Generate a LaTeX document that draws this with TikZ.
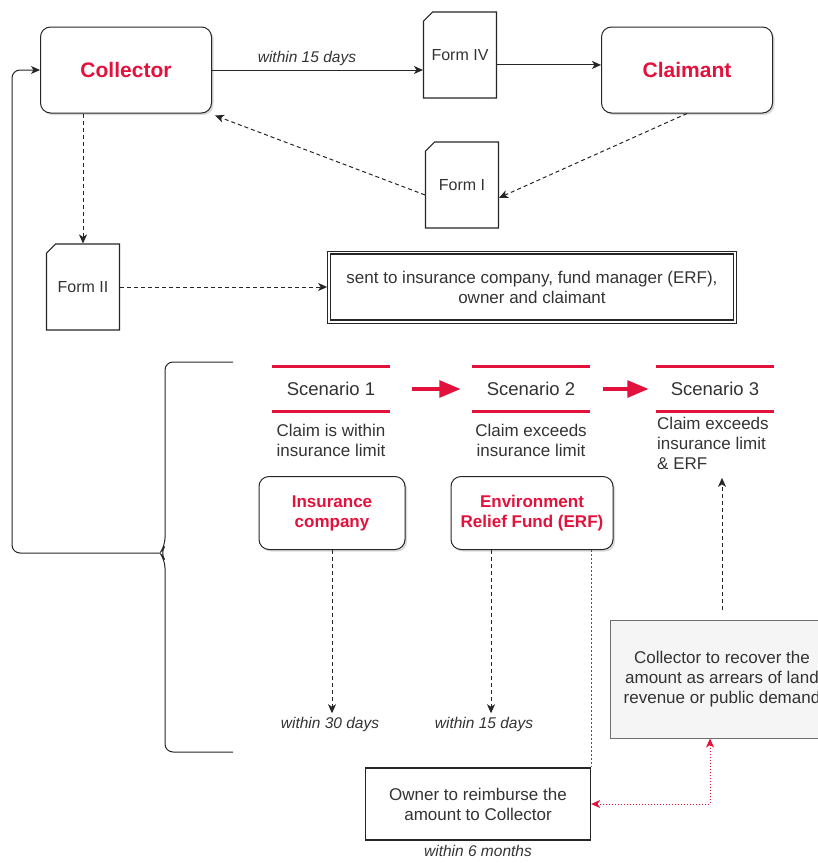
\documentclass[tikz,border=0pt]{standalone}
\usepackage{fontspec}
\setmainfont{Liberation Sans}
\usepackage{xcolor}
\usepackage{tikz}
\usetikzlibrary{arrows}
\usetikzlibrary{arrows.meta}
\usetikzlibrary{shapes.misc}
\usetikzlibrary{shadows}
\usetikzlibrary{positioning}
\definecolor{crimson}{RGB}{226,18,60}
\definecolor{txtgrey}{RGB}{51,51,51}
\definecolor{boxgrey}{RGB}{245,245,245}
\definecolor{edgegrey}{RGB}{110,110,110}

\begin{document}
\begin{tikzpicture}[x=1pt,y=-1pt]
	\useasboundingbox (0,0) rectangle (818,863);
	\clip (0,0) rectangle (818,863);
	\tikzstyle{actor}=[draw=black!85,rounded corners=10pt,line width=1pt,minimum width=171pt,minimum height=86pt,fill=white,drop shadow={opacity=0.3,shadow xshift=2pt,shadow yshift=-2pt},text=crimson,font=\fontsize{21}{24}\selectfont\bfseries]
	\tikzstyle{fund}=[actor,minimum height=73pt,align=center,font=\fontsize{17}{20}\selectfont\bfseries]
	\tikzstyle{form}=[draw=black!85,line width=1.1pt,fill=white,chamfered rectangle,chamfered rectangle corners=north west,chamfered rectangle xsep=21pt,minimum width=73pt,minimum height=86pt,inner sep=0pt,text=txtgrey,font=\fontsize{16}{19}\selectfont]
	\tikzstyle{plainbox}=[draw=black!85,line width=1.2pt,align=center,text=txtgrey,font=\fontsize{17}{20}\selectfont]
	\tikzstyle{scen}=[minimum width=117pt,minimum height=44pt,text=txtgrey,font=\fontsize{18.5}{22}\selectfont]
	\tikzstyle{desc}=[align=center,text=txtgrey,font=\fontsize{17}{20}\selectfont]
	\tikzstyle{lbl}=[text=txtgrey,font=\fontsize{15.5}{18}\selectfont\itshape]
	\tikzstyle{scenbar}=[draw=crimson,line width=3pt]
	\tikzstyle{bigarrow}=[-triangle 45,draw=crimson,line width=4pt]
	\tikzstyle{solidarrow}=[-{Stealth[length=9pt,width=8pt,inset=2.5pt]},draw=black!85,line width=1pt]
	\tikzstyle{dasharrow}=[-{Stealth[length=9pt,width=8pt,inset=2.5pt]},draw=black!85,line width=1pt,dash pattern=on 4pt off 3pt]
	\tikzstyle{reddots}=[draw=crimson,line width=1pt,dotted]

	\node[actor] (co) at (126,70) {Collector};
	\node[actor] (cl) at (687,70) {Claimant};
	\node[form] (f4) at (460,55) {Form IV};
	\node[form] (f1) at (462,185) {Form I};
	\node[form] (f2) at (83,287) {Form II};
	\node[plainbox,line width=0.8pt,minimum width=409pt,minimum height=72pt] (sb) at (532,287) {sent to insurance company, fund manager (ERF),\\owner and claimant};
	\draw[black!85,line width=1.6pt] ([xshift=3.5pt,yshift=-3.5pt]sb.north west) rectangle ([xshift=-3.5pt,yshift=3.5pt]sb.south east);

	\node[scen] (s1) at (331,389) {Scenario 1};
	\node[scen] (s2) at (531,389) {Scenario 2};
	\node[scen] (s3) at (715,389) {Scenario 3};
	\draw[scenbar] (s1.north west) -- (s1.north east) (s1.south west) -- (s1.south east);
	\draw[scenbar] (s2.north west) -- (s2.north east) (s2.south west) -- (s2.south east);
	\draw[scenbar] (s3.north west) -- (s3.north east) (s3.south west) -- (s3.south east);
	\draw[bigarrow,shorten <=22pt,shorten >=12pt] (s1.east) -- (s2.west);
	\draw[bigarrow,shorten <=13pt,shorten >=8pt] (s2.east) -- (s3.west);
	\node[desc] (d1) at (331,440) {Claim is within\\insurance limit};
	\node[desc] (d2) at (531,440) {Claim exceeds\\insurance limit};
	\node[desc,align=left,anchor=north west,inner sep=0pt] (d3) at (657,417) {Claim exceeds\\insurance limit\\\& ERF};

	\node[fund,minimum width=146pt] (ins) at (332,513) {Insurance\\company};
	\node[fund,minimum width=162pt] (erf) at (532,513) {Environment\\Relief Fund (ERF)};
	\node[plainbox,minimum width=225pt,minimum height=72pt] (ow) at (478,804) {Owner to reimburse the\\amount to Collector};
	\node[plainbox,draw=edgegrey,line width=1pt,fill=boxgrey,minimum width=224pt,minimum height=118pt] (gb) at (722,679) {Collector to recover the\\amount as arrears of land\\revenue or public demand};

	\node[lbl] (l30) at (330,724) {within 30 days};
	\node[lbl] (l15) at (484,724) {within 15 days};
	\node[lbl,below=1pt of ow] (l6) {within 6 months};

	\draw[solidarrow] (co.east) -- node[lbl,above,pos=0.45] {within 15 days} (f4.west |- co.east);
	\draw[solidarrow] (f4.-15) -- (cl.west |- f4.-15);
	\draw[dasharrow] (cl.south) -- (f1.-19);
	\draw[dasharrow] (f1.195) -- ([xshift=3pt,yshift=-2pt]co.south east);
	\draw[dasharrow] (co.south -| f2.north) -- (f2.north);
	\draw[dasharrow] (f2.east) -- (sb.west);

	\coordinate (bt) at (160,553);
	\coordinate (lc) at (12,553);
	\draw[black!85,line width=1pt,rounded corners=8pt] (233,362) -- (165,362) -- (165,546) -- (bt) -- (165,560) -- (165,752) -- (233,752);
	\draw[solidarrow,rounded corners=8pt] (bt) -- (lc) |- (co.west);

	\draw[dasharrow] (ins.south) -- (ins.south |- l30.north);
	\draw[dasharrow] ([xshift=-41pt]erf.south) -- ([xshift=-41pt]erf.south |- l15.north);
	\draw[reddots,dash pattern=on 2pt off 2pt] (ow.north east |- erf.south) -- (ow.north east);
	\draw[dasharrow,shorten <=10pt,shorten >=8pt] (gb.north) -- (gb.north |- d3.south);
	\draw[reddots,{Stealth[length=9pt,width=8pt,inset=2.5pt]}-{Stealth[length=9pt,width=8pt,inset=2.5pt]}] ([xshift=-12pt]gb.south) |- (ow.east);
\end{tikzpicture}
\end{document}
